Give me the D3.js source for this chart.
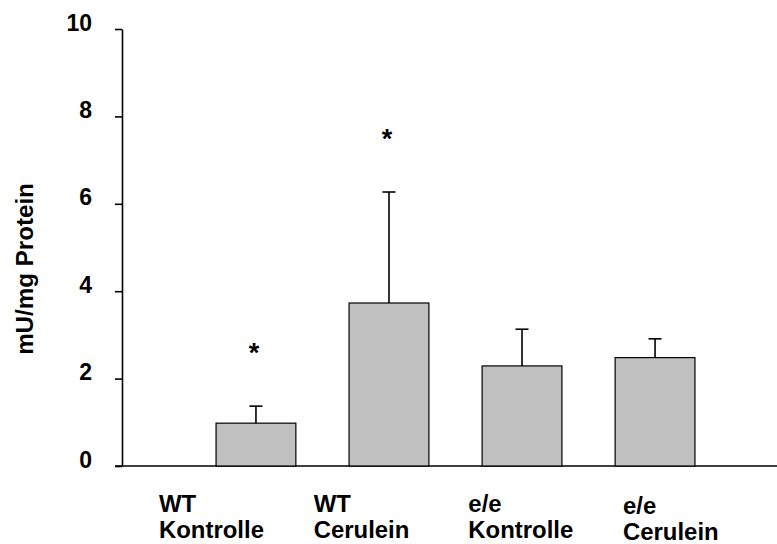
<!DOCTYPE html>
<html>
<head>
<meta charset="utf-8">
<script src="https://cdn.jsdelivr.net/npm/d3@7"></script>
<style>
  body { margin: 0; background: #fff; }
  svg text { font-family: "Liberation Sans", Arial, sans-serif; font-weight: bold; fill: #000; }
</style>
</head>
<body>
<svg id="chart"></svg>
<script>
// data
const groups = ["WT|Kontrolle", "WT|Cerulein", "e/e|Kontrolle", "e/e|Cerulein"];
const means = [0.98, 3.73, 2.29, 2.48];
const errors = [0.39, 2.54, 0.84, 0.43];
const significant = [true, true, false, false];
const yTicks = [0, 2, 4, 6, 8, 10];
const yLabel = "mU/mg Protein";

const width = 777;
const height = 544;
const axisX = 122;
const axisBottom = 466;
const axisTop = 29;

const svg = d3.select("#chart")
    .attr("width", width)
    .attr("height", height);

// Set the x and y scales
const xScale = d3.scaleBand()
    .domain(groups)
    .range([axisX, 789])
    .paddingInner(0.4)
    .paddingOuter(0.707);

// labels sit on their own spacing, not centred under the bars
const labelScale = d3.scalePoint()
    .domain(groups)
    .range([159, 623]);

const yScale = d3.scaleLinear()
    .domain([0, 10])
    .range([axisBottom, axisTop]);

// y-axis
const yAxis = svg.append("g")
    .attr("transform", `translate(${axisX},0)`)
    .call(d3.axisLeft(yScale).tickValues(yTicks).tickSize(7).tickPadding(0).tickSizeOuter(0));
yAxis.select(".domain").attr("stroke", "#000").attr("stroke-width", 1.6);
yAxis.selectAll(".tick line").attr("stroke", "#000").attr("stroke-width", 1.6);
yAxis.selectAll(".tick text")
    .attr("x", -30)
    .attr("y", -7)
    .attr("dy", "0.35em")
    .attr("font-size", 23)
    .attr("text-anchor", "end")
    .style("font-family", null);

// x-axis baseline
svg.append("line")
    .attr("x1", axisX - 7)
    .attr("x2", width)
    .attr("y1", yScale(0))
    .attr("y2", yScale(0))
    .attr("stroke", "#000")
    .attr("stroke-width", 1.6);

// bars
svg.append("g").selectAll("rect")
    .data(groups)
    .join("rect")
    .attr("x", d => xScale(d))
    .attr("y", (d, i) => yScale(means[i]))
    .attr("width", xScale.bandwidth())
    .attr("height", (d, i) => yScale(0) - yScale(means[i]))
    .attr("fill", "#c0c0c0")
    .attr("stroke", "#000")
    .attr("stroke-width", 1.2);

// error bars (upper only)
const err = svg.append("g").selectAll("g")
    .data(groups)
    .join("g")
    .attr("stroke", "#000")
    .attr("stroke-width", 1.6);
err.append("line")
    .attr("x1", d => xScale(d) + xScale.bandwidth() / 2)
    .attr("x2", d => xScale(d) + xScale.bandwidth() / 2)
    .attr("y1", (d, i) => yScale(means[i]))
    .attr("y2", (d, i) => yScale(means[i] + errors[i]));
err.append("line")
    .attr("x1", d => xScale(d) + xScale.bandwidth() / 2 - 6.5)
    .attr("x2", d => xScale(d) + xScale.bandwidth() / 2 + 6.5)
    .attr("y1", (d, i) => yScale(means[i] + errors[i]))
    .attr("y2", (d, i) => yScale(means[i] + errors[i]));

// asterisks
svg.append("g").selectAll("text")
    .data(groups.filter((d, i) => significant[i]))
    .join("text")
    .attr("x", d => xScale(d) + xScale.bandwidth() / 2 - 2)
    .attr("y", d => yScale(means[groups.indexOf(d)] + errors[groups.indexOf(d)]) - 44)
    .attr("text-anchor", "middle")
    .attr("font-size", 27)
    .text("*");

// category labels, two lines each
const labels = svg.append("g").selectAll("text")
    .data(groups)
    .join("text")
    .attr("transform", (d, i) => `translate(${labelScale(d)},${i === 3 ? 514 : 512}) scale(1.04,1)`)
    .attr("font-size", 23);
labels.append("tspan")
    .attr("x", 0)
    .text(d => d.split("|")[0]);
labels.append("tspan")
    .attr("x", 0)
    .attr("dy", 26)
    .text(d => d.split("|")[1]);

// y-axis label
svg.append("text")
    .attr("transform", `translate(33,269) rotate(-90) scale(1.05,1)`)
    .attr("text-anchor", "middle")
    .attr("font-size", 23)
    .text(yLabel);
</script>
</body>
</html>
